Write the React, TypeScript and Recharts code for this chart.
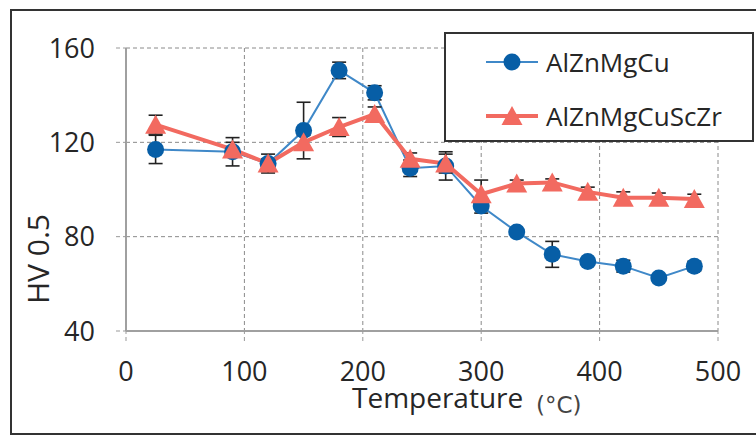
import { ComposedChart, Line, XAxis, YAxis, CartesianGrid, ErrorBar } from "recharts";

const temps = [25, 90, 120, 150, 180, 210, 240, 270, 300, 330, 360, 390, 420, 450, 480];
const hvBase = [117, 116, 111, 125, 150.5, 141, 109, 110, 93, 82, 72.5, 69.5, 67.5, 62.5, 67.5];
const hvBaseErr = [6, 6, 4, 12, 3.5, 3, 3.5, 6, 3, 1, 5.5, 1, 2.5, 1, 2];
const hvScZr = [127.5, 117, 111, 120, 126.5, 132, 113, 111, 98, 102.5, 103, 99, 96.5, 96.5, 96];
const hvScZrErr = [4, 3, 2, 3, 4, 3, 2.5, 4, 6, 1.5, 1.5, 2, 2.5, 2, 2];
const seriesNames = ["AlZnMgCu", "AlZnMgCuScZr"];
const xTicks = [0, 100, 200, 300, 400, 500];
const yTicks = [40, 80, 120, 160];

const data = temps.map((t, i) => ({
  t,
  base: hvBase[i],
  baseErr: hvBaseErr[i],
  sczr: hvScZr[i],
  sczrErr: hvScZrErr[i],
}));

const BLUE_DOT = "#075ea6";
const BLUE_LINE = "#3f88c8";
const RED = "#f26a60";
const FONT = "'Open Sans', sans-serif";

const CircleDot = (p: any) =>
  p.cx == null ? null : <circle key={p.index} cx={p.cx} cy={p.cy} r={8.5} fill={BLUE_DOT} />;

const TriDot = (p: any) => {
  if (p.cx == null) return null;
  const { cx, cy } = p;
  return (
    <polygon
      key={p.index}
      points={`${cx},${cy - 10} ${cx - 10.5},${cy + 9} ${cx + 10.5},${cy + 9}`}
      fill={RED}
    />
  );
};

// boxed legend panel, sits over the chart like in the original figure
const LegendBox = () => (
  <div
    style={{
      position: "absolute",
      left: 444,
      top: 32,
      width: 310,
      height: 110,
      border: "2px solid #333",
      boxSizing: "border-box",
      background: "#fff",
      fontFamily: FONT,
    }}
  >
    {seriesNames.map((name, i) => {
      const tri = i === 1;
      return (
        <div
          key={name}
          style={{
            position: "absolute",
            left: 38,
            top: (tri ? 82 : 28) - 20,
            height: 40,
            display: "flex",
            alignItems: "center",
            whiteSpace: "nowrap",
          }}
        >
          <svg width={56} height={40}>
            <line x1={2} y1={20} x2={54} y2={20} stroke={tri ? RED : BLUE_LINE} strokeWidth={tri ? 4 : 2} />
            {tri ? (
              <polygon points="28,10 17.5,29 38.5,29" fill={RED} />
            ) : (
              <circle cx={28} cy={20} r={8.5} fill={BLUE_DOT} />
            )}
          </svg>
          <span style={{ marginLeft: 6, fontSize: 26, color: "#262626" }}>{name}</span>
        </div>
      );
    })}
  </div>
);

const XLabel = ({ viewBox }: any) => {
  const { x, y } = viewBox;
  return (
    <g>
      <text x={x + 226} y={y + 77} fontSize={28} fill="#262626" fontFamily={FONT}>
        Temperature
      </text>
      <text x={x + 410} y={y + 82} fontSize={23} fill="#444" fontFamily="'DejaVu Sans', sans-serif">
        (°C)
      </text>
    </g>
  );
};

const YLabel = ({ viewBox }: any) => {
  const { x, y } = viewBox;
  const cx = x + 37;
  const cy = y + 211;
  return (
    <text
      x={cx}
      y={cy}
      transform={`rotate(-90 ${cx} ${cy})`}
      textAnchor="middle"
      dominantBaseline="central"
      fontSize={30}
      fill="#262626"
      fontFamily={FONT}
    >
      HV 0.5
    </text>
  );
};

export default function App() {
  return (
    <div style={{ position: "relative", width: 756, height: 435, overflow: "hidden", background: "#fff" }}>
      <style>{"body{margin:0}"}</style>
      <div
        style={{
          position: "absolute",
          left: 10,
          top: 9,
          width: 800,
          height: 426,
          border: "2px solid #333",
          boxSizing: "border-box",
        }}
      />
      <div style={{ position: "absolute", left: 0, top: 0, width: 756, height: 435 }}>
        <ComposedChart width={756} height={435} data={data} margin={{ top: 48, right: 38, bottom: 44, left: 0 }}>
          <CartesianGrid stroke="#8a8a8a" strokeDasharray="4 3" />
          <XAxis
            dataKey="t"
            type="number"
            domain={[0, 500]}
            ticks={xTicks}
            allowDataOverflow
            height={60}
            axisLine={{ stroke: "#a0a0a0", strokeWidth: 2 }}
            tickLine={{ stroke: "#999", strokeDasharray: "4 3" }}
            tickSize={10}
            tickMargin={21}
            tick={{ fontSize: 27, fill: "#262626", fontFamily: FONT }}
            label={{ content: (props: any) => <XLabel {...props} /> }}
          />
          <YAxis
            type="number"
            domain={[40, 160]}
            ticks={yTicks}
            allowDataOverflow
            width={126}
            axisLine={{ stroke: "#a0a0a0", strokeWidth: 2 }}
            tickLine={{ stroke: "#999", strokeDasharray: "4 3" }}
            tickSize={10}
            tickMargin={21}
            tick={{ fontSize: 27, fill: "#262626", fontFamily: FONT }}
            label={{ content: (props: any) => <YLabel {...props} /> }}
          />
          <Line
            dataKey="base"
            name={seriesNames[0]}
            stroke={BLUE_LINE}
            strokeWidth={2}
            dot={CircleDot}
            activeDot={false}
            isAnimationActive={false}
          >
            <ErrorBar dataKey="baseErr" direction="y" width={7} stroke="#222" strokeWidth={1.6} isAnimationActive={false} />
          </Line>
          <Line
            dataKey="sczr"
            name={seriesNames[1]}
            stroke={RED}
            strokeWidth={4}
            dot={TriDot}
            activeDot={false}
            isAnimationActive={false}
          >
            <ErrorBar dataKey="sczrErr" direction="y" width={7} stroke="#222" strokeWidth={1.6} isAnimationActive={false} />
          </Line>
        </ComposedChart>
      </div>
      <LegendBox />
    </div>
  );
}
